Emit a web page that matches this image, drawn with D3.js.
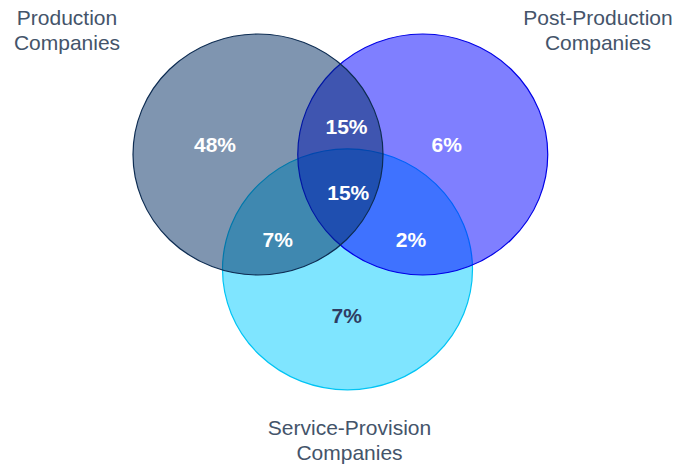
<!DOCTYPE html>
<html>
<head>
<meta charset="utf-8">
<script src="https://cdn.jsdelivr.net/npm/d3@7"></script>
<style>
  body { margin: 0; background: #fff; }
  svg { display: block; font-family: "Liberation Sans", Arial, sans-serif; }
</style>
</head>
<body>
<div id="chart"></div>
<script>
// sets, drawn back to front (service, post-production, production)
var setNames = [["Service-Provision", "Companies"], ["Post-Production", "Companies"], ["Production", "Companies"]];
var setFills = ["#00ccff", "#0000ff", "#002b62"];
var setStrokes = ["#00c4f4", "#0000e6", "#0d2c52"];
// circle centres in radius units
var setCx = [0.716, 1.318, 0];
var setCy = [0.953, 0, 0];

// region shares
var regionLabels = ["48%", "15%", "6%", "15%", "7%", "2%", "7%"];
var regionX = [-0.344, 0.708, 1.510, 0.722, 0.158, 1.224, 0.710];
var regionY = [-0.023, -0.170, -0.023, 0.378, 0.770, 0.770, 1.395];
var regionDark = [false, false, false, false, false, false, true];

chart('#chart');

function chart(id) {
	var width = 676;
	var height = 465;

	var svg = d3.select(id).append("svg")
		.attr("width", width)
		.attr("height", height);

	// 1 radius unit -> 125px across, 120.5px down
	var x = d3.scaleLinear().domain([0, 1]).range([258, 383]);
	var y = d3.scaleLinear().domain([0, 1]).range([154.5, 275]);
	var rx = x(1) - x(0);
	var ry = y(1) - y(0);

	svg.selectAll("ellipse.set")
		.data(setNames)
		.join("ellipse")
		.attr("class", "set")
		.attr("cx", function(d, i) { return x(setCx[i]); })
		.attr("cy", function(d, i) { return y(setCy[i]); })
		.attr("rx", rx)
		.attr("ry", ry)
		.attr("fill", function(d, i) { return setFills[i]; })
		.attr("fill-opacity", 0.5)
		.attr("stroke", function(d, i) { return setStrokes[i]; })
		.attr("stroke-width", 1.2);

	svg.selectAll("text.region")
		.data(regionLabels)
		.join("text")
		.attr("class", "region")
		.attr("x", function(d, i) { return x(regionX[i]); })
		.attr("y", function(d, i) { return y(regionY[i]); })
		.attr("text-anchor", "middle")
		.attr("fill", function(d, i) { return regionDark[i] ? "#2f3c62" : "#ffffff"; })
		.style("font-size", "21px")
		.style("font-weight", "bold")
		.text(function(d) { return d; });

	// set titles
	var titlePos = [
		{ x: x(0.716) + 2, y: 435 },
		{ x: 598, y: 25 },
		{ x: 67, y: 25 }
	];

	svg.selectAll("text.title")
		.data(setNames)
		.join("text")
		.attr("class", "title")
		.attr("x", function(d, i) { return titlePos[i].x; })
		.attr("y", function(d, i) { return titlePos[i].y; })
		.attr("text-anchor", "middle")
		.attr("fill", "#44546a")
		.style("font-size", "21px")
		.selectAll("tspan")
		.data(function(d) { return d; })
		.join("tspan")
		.attr("x", function() { return d3.select(this.parentNode).attr("x"); })
		.attr("dy", function(d, i) { return i ? 25 : 0; })
		.text(function(d) { return d; });
}
</script>
</body>
</html>
